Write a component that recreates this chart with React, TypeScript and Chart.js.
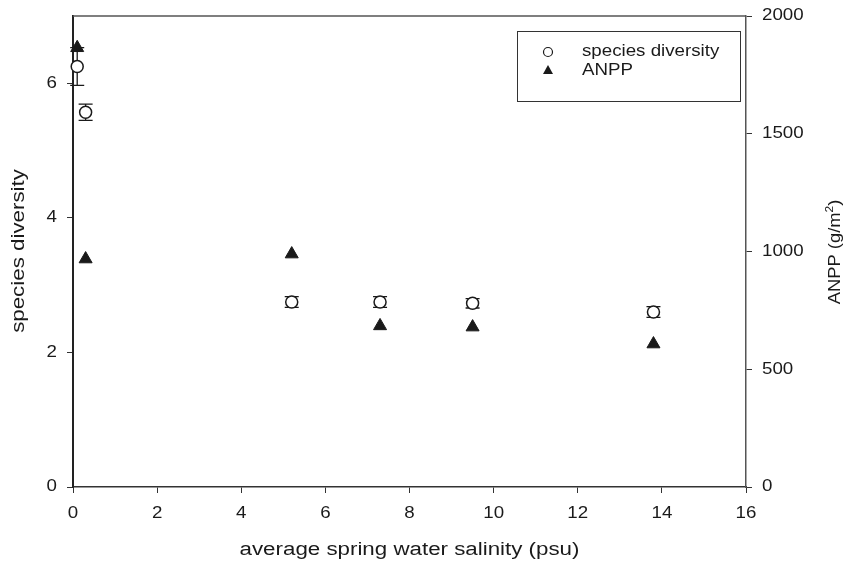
import React, { useEffect, useRef } from 'react';
import { Chart, registerables } from 'chart.js';

Chart.register(...registerables);

const salinity = [0.1, 0.3, 5.2, 7.3, 9.5, 13.8];
const diversity = [6.25, 5.57, 2.75, 2.75, 2.73, 2.6];
const diversityErr = [0.28, 0.12, 0.08, 0.08, 0.07, 0.08];
const anpp = [1865, 968, 989, 684, 679, 607];

const xTicks = [0, 2, 4, 6, 8, 10, 12, 14, 16];
const leftTicks = [0, 2, 4, 6];
const rightTicks = [0, 500, 1000, 1500, 2000];

const xTitle = 'average spring water salinity (psu)';
const leftTitle = 'species diversity';
const rightTitleMain = 'ANPP (g/m';
const rightTitleSup = '2';
const rightTitleEnd = ')';
const legendLabels = ['species diversity', 'ANPP'];

const FONT = '"Liberation Sans", Arial, Helvetica, sans-serif';
const INK = '#1a1a1a';
const AXIS = '#333333';

function stretchText(
  ctx: CanvasRenderingContext2D,
  text: string,
  x: number,
  y: number,
  size: number,
  sx: number,
  align: CanvasTextAlign,
  baseline: CanvasTextBaseline,
  rot = 0
) {
  ctx.save();
  ctx.translate(x, y);
  if (rot) ctx.rotate(rot);
  ctx.scale(sx, 1);
  ctx.font = `${size}px ${FONT}`;
  ctx.textAlign = align;
  ctx.textBaseline = baseline;
  ctx.fillText(text, 0, 0);
  ctx.restore();
}

const decorPlugin = {
  id: 'decor',
  beforeDatasetsDraw(chart: any) {
    const ctx = chart.ctx;
    const xs = chart.scales.x;
    const ys = chart.scales.y;
    ctx.save();
    ctx.strokeStyle = INK;
    ctx.lineWidth = 1.3;
    for (let i = 0; i < salinity.length; i++) {
      const x = xs.getPixelForValue(salinity[i]);
      const yTop = ys.getPixelForValue(diversity[i] + diversityErr[i]);
      const yBot = ys.getPixelForValue(diversity[i] - diversityErr[i]);
      ctx.beginPath();
      ctx.moveTo(x, yTop);
      ctx.lineTo(x, yBot);
      ctx.moveTo(x - 7, yTop);
      ctx.lineTo(x + 7, yTop);
      ctx.moveTo(x - 7, yBot);
      ctx.lineTo(x + 7, yBot);
      ctx.stroke();
    }
    ctx.restore();
  },
  afterDraw(chart: any) {
    const ctx = chart.ctx as CanvasRenderingContext2D;
    const a = chart.chartArea;
    const xs = chart.scales.x;
    const ys = chart.scales.y;
    const y2 = chart.scales.y2;
    ctx.save();
    // top frame line
    ctx.strokeStyle = '#555';
    ctx.lineWidth = 1.5;
    ctx.beginPath();
    ctx.moveTo(a.left, a.top);
    ctx.lineTo(a.right, a.top);
    ctx.stroke();

    ctx.fillStyle = INK;
    // tick labels
    const TS = 16;
    const TX = 1.17;
    xTicks.forEach((v) => {
      stretchText(ctx, String(v), xs.getPixelForValue(v), a.bottom + 27, TS, TX, 'center', 'middle');
    });
    leftTicks.forEach((v) => {
      stretchText(ctx, String(v), a.left - 16, ys.getPixelForValue(v), TS, TX, 'right', 'middle');
    });
    rightTicks.forEach((v) => {
      stretchText(ctx, String(v), a.right + 16, y2.getPixelForValue(v), TS, TX, 'left', 'middle');
    });

    // x title
    stretchText(ctx, xTitle, (a.left + a.right) / 2, 550, 18, 1.24, 'center', 'middle');
    // left title
    stretchText(ctx, leftTitle, 24, 251, 18, 1.24, 'center', 'alphabetic', -Math.PI / 2);

    // right title with superscript
    ctx.save();
    ctx.translate(840, 252);
    ctx.rotate(-Math.PI / 2);
    ctx.scale(1.08, 1);
    ctx.textAlign = 'left';
    ctx.textBaseline = 'alphabetic';
    ctx.font = `17px ${FONT}`;
    const w1 = ctx.measureText(rightTitleMain).width;
    const w3 = ctx.measureText(rightTitleEnd).width;
    ctx.font = `11px ${FONT}`;
    const w2 = ctx.measureText(rightTitleSup).width;
    const total = w1 + w2 + w3;
    let px = -total / 2;
    ctx.font = `17px ${FONT}`;
    ctx.fillText(rightTitleMain, px, 0);
    px += w1;
    ctx.font = `11px ${FONT}`;
    ctx.fillText(rightTitleSup, px, -7);
    px += w2;
    ctx.font = `17px ${FONT}`;
    ctx.fillText(rightTitleEnd, px, 0);
    ctx.restore();

    // legend
    ctx.strokeStyle = AXIS;
    ctx.lineWidth = 1;
    ctx.strokeRect(517.5, 31.5, 223, 70);
    ctx.beginPath();
    ctx.arc(548, 52, 4.5, 0, Math.PI * 2);
    ctx.fillStyle = '#fff';
    ctx.fill();
    ctx.strokeStyle = INK;
    ctx.lineWidth = 1.2;
    ctx.stroke();
    ctx.beginPath();
    ctx.moveTo(548, 65);
    ctx.lineTo(553, 74);
    ctx.lineTo(543, 74);
    ctx.closePath();
    ctx.fillStyle = INK;
    ctx.fill();
    stretchText(ctx, legendLabels[0], 582, 52, 16, 1.17, 'left', 'middle');
    stretchText(ctx, legendLabels[1], 582, 71, 16, 1.17, 'left', 'middle');
    ctx.restore();
  },
};

export default function App() {
  const ref = useRef<HTMLCanvasElement | null>(null);

  useEffect(() => {
    if (!ref.current) return;
    const gridOpts = { drawOnChartArea: false, drawTicks: true, tickLength: 6, color: AXIS, lineWidth: 1 };
    const chart = new Chart(ref.current, {
      type: 'scatter',
      data: {
        datasets: [
          {
            label: legendLabels[0],
            data: salinity.map((x, i) => ({ x, y: diversity[i] })),
            yAxisID: 'y',
            pointStyle: 'circle',
            pointRadius: 6,
            pointBackgroundColor: '#ffffff',
            pointBorderColor: INK,
            pointBorderWidth: 1.5,
            showLine: false,
            clip: false,
          } as any,
          {
            label: legendLabels[1],
            data: salinity.map((x, i) => ({ x, y: anpp[i] })),
            yAxisID: 'y2',
            pointStyle: 'triangle',
            pointRadius: 7.5,
            pointBackgroundColor: INK,
            pointBorderColor: INK,
            pointBorderWidth: 1,
            showLine: false,
            clip: false,
          } as any,
        ],
      },
      options: {
        animation: false,
        responsive: false,
        layout: { padding: { top: 16, left: 0, right: 0, bottom: 0 } },
        plugins: {
          legend: { display: false },
          tooltip: { enabled: false },
        },
        scales: {
          x: {
            type: 'linear',
            position: 'bottom',
            min: 0,
            max: 16,
            afterBuildTicks: (s: any) => {
              s.ticks = xTicks.map((v) => ({ value: v }));
            },
            afterFit: (s: any) => {
              s.height = 80;
            },
            ticks: { display: false },
            grid: gridOpts,
            border: { color: AXIS, width: 1.5 },
          },
          y: {
            type: 'linear',
            position: 'left',
            min: 0,
            max: 7,
            afterBuildTicks: (s: any) => {
              s.ticks = leftTicks.map((v) => ({ value: v }));
            },
            afterFit: (s: any) => {
              s.width = 73;
            },
            ticks: { display: false },
            grid: gridOpts,
            border: { color: '#222', width: 2 },
          },
          y2: {
            type: 'linear',
            position: 'right',
            min: 0,
            max: 2000,
            afterBuildTicks: (s: any) => {
              s.ticks = rightTicks.map((v) => ({ value: v }));
            },
            afterFit: (s: any) => {
              s.width = 97;
            },
            ticks: { display: false },
            grid: gridOpts,
            border: { color: '#555', width: 1.5 },
          },
        },
      },
      plugins: [decorPlugin],
    });
    return () => chart.destroy();
  }, []);

  return (
    <div style={{ position: 'absolute', left: 0, top: 0, width: 843, height: 567, background: '#fff' }}>
      <canvas ref={ref} width={843} height={567} style={{ display: 'block' }} />
    </div>
  );
}
